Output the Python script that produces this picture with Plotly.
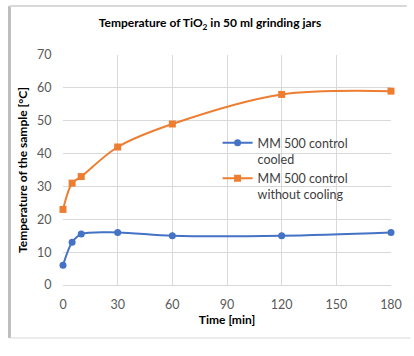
import plotly.graph_objects as go

time_min = [0, 5, 10, 30, 60, 120, 180]
cooled = [6, 13, 15.5, 16, 15, 15, 16]
without_cooling = [23, 31, 33, 42, 49, 58, 59]
x_ticks = [0, 30, 60, 90, 120, 150, 180]
y_ticks = [0, 10, 20, 30, 40, 50, 60, 70]

FONT = "Lato, Open Sans, sans-serif"

fig = go.Figure()
fig.add_trace(go.Scatter(
    x=time_min, y=cooled, mode="lines+markers",
    name="MM 500 control<br>cooled", cliponaxis=False,
    line=dict(color="#4472C4", width=2, shape="spline", smoothing=0.9),
    marker=dict(symbol="circle", size=7, color="#4472C4"),
))
fig.add_trace(go.Scatter(
    x=time_min, y=without_cooling, mode="lines+markers",
    name="MM 500 control<br>without cooling", cliponaxis=False,
    line=dict(color="#ED7D31", width=2, shape="spline", smoothing=0.9),
    marker=dict(symbol="square", size=7, color="#ED7D31"),
))

L, R, T, B = 63, 20, 55, 71
W, H = 414, 356
pw, ph = W - L - R, H - T - B

def px(x):
    return (x - L) / pw

def py(y):
    return (H - B - y) / ph

shapes = [
    dict(type="line", xref="paper", yref="paper", x0=px(9), x1=px(9), y0=py(6), y1=py(338),
         line=dict(color="#BFBFBF", width=3)),
    dict(type="line", xref="paper", yref="paper", x0=px(9), x1=px(410), y0=py(6), y1=py(6),
         line=dict(color="#D9D9D9", width=2)),
    dict(type="line", xref="paper", yref="paper", x0=px(9), x1=px(414), y0=py(338), y1=py(338),
         line=dict(color="#D9D9D9", width=1)),
]

fig.update_layout(
    width=W, height=H,
    margin=dict(l=L, r=R, t=T, b=B),
    paper_bgcolor="white", plot_bgcolor="white",
    font=dict(family=FONT, color="#595959", size=12),
    title=dict(text="<b>Temperature of TiO<sub>2</sub> in 50 ml grinding jars</b>",
               x=210 / W, xanchor="center", xref="container", y=1 - 23 / H, yanchor="middle",
               font=dict(size=12, color="black", family=FONT)),
    xaxis=dict(range=[0, 180], tickvals=x_ticks, showgrid=True, gridcolor="#D9D9D9",
               zeroline=False, showline=True, linecolor="#D9D9D9",
               ticks="outside", ticklen=8, tickcolor="rgba(0,0,0,0)",
               title=dict(text="<b>Time [min]</b>", font=dict(size=12, color="black"), standoff=4),
               tickfont=dict(size=12.5, color="#595959")),
    yaxis=dict(range=[0, 70], tickvals=y_ticks, showgrid=True, gridcolor="#D9D9D9",
               zeroline=False, showline=False,
               ticks="outside", ticklen=8, tickcolor="rgba(0,0,0,0)",
               title=dict(text="<b>Temperature of the sample [°C]</b>", font=dict(size=12, color="black"), standoff=6),
               tickfont=dict(size=12.5, color="#595959")),
    legend=dict(x=px(219), y=py(128), xanchor="left", yanchor="top", valign="top",
                bgcolor="rgba(0,0,0,0)", font=dict(size=12.5, color="#404040"),
                itemwidth=30, tracegroupgap=9),
    showlegend=True,
    shapes=shapes,
)

fig.write_html("out.html")
